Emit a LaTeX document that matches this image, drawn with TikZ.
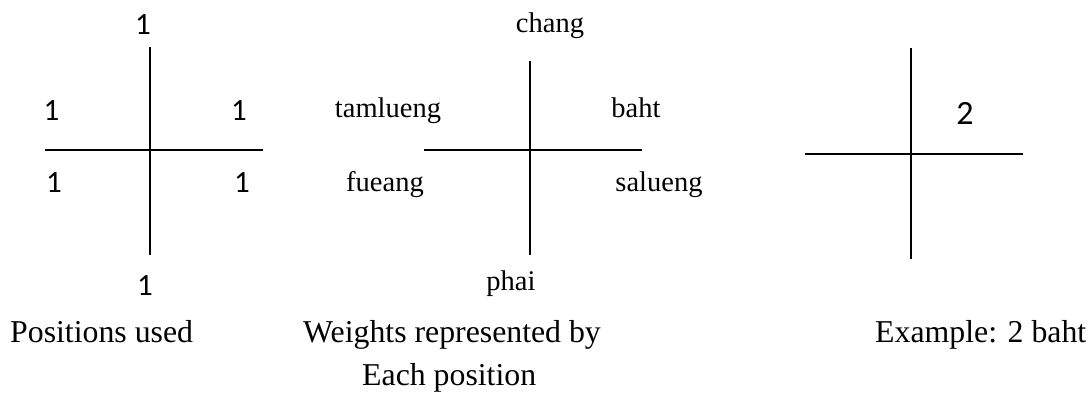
\documentclass[tikz,border=0pt]{standalone}
\usepackage{fontspec}
\setmainfont{Liberation Serif}
\newfontfamily\digitfont{Carlito}
\begin{document}
\begin{tikzpicture}[x=1pt,y=-1pt,
  bar/.style={line width=1.7pt,black},
  num/.style={inner sep=0pt,anchor=base,font=\digitfont\fontsize{31}{31}\selectfont},
  word/.style={inner sep=0pt,anchor=base,font=\fontsize{28.5}{28.5}\selectfont},
  caption/.style={inner sep=0pt,anchor=base west,font=\fontsize{31.8}{31.8}\selectfont}]
\useasboundingbox (0,0) rectangle (1090,401);

% first cross: every position counts 1
\coordinate (aT) at (150,47);  \coordinate (aB) at (150,255);
\coordinate (aL) at (45,150);  \coordinate (aR) at (263,150);
\draw[bar] (aT) -- (aB);
\draw[bar] (aL) -- (aR);
\node[num] (a1) at (143,35) {1};
\node[num] (a2) at (51.5,121) {1};
\node[num] (a3) at (239,121) {1};
\node[num] (a4) at (54,193) {1};
\node[num] (a5) at (242,193) {1};
\node[num] (a6) at (145,295) {1};

% second cross: the weight named by each position
\coordinate (bT) at (530,61);  \coordinate (bB) at (530,255);
\coordinate (bL) at (424,150); \coordinate (bR) at (642,150);
\draw[bar] (bT) -- (bB);
\draw[bar] (bL) -- (bR);
\node[word] (chang) at (550,33) {chang};
\node[word] (tamlueng) at (388,118) {tamlueng};
\node[word] (baht) at (636,118) {baht};
\node[word] (fueang) at (385,192) {fueang};
\node[word] (salueng) at (659,192) {salueng};
\node[word] (phai) at (511,290) {phai};

% third cross: two baht
\coordinate (cT) at (911,48);  \coordinate (cB) at (911,259);
\coordinate (cL) at (805,154); \coordinate (cR) at (1023,154);
\draw[bar] (cT) -- (cB);
\draw[bar] (cL) -- (cR);
\node[num,font=\digitfont\fontsize{34}{34}\selectfont] (c2) at (965,125) {2};

% captions
\node[caption] (capA) at (10,342) {Positions used};
\node[caption] (capB) at (303,342) {Weights represented by};
\node[caption] (capB2) at (362,385) {Each position};
\node[caption] (capC) at (875,342) {Example: 2 baht};
\end{tikzpicture}
\end{document}
